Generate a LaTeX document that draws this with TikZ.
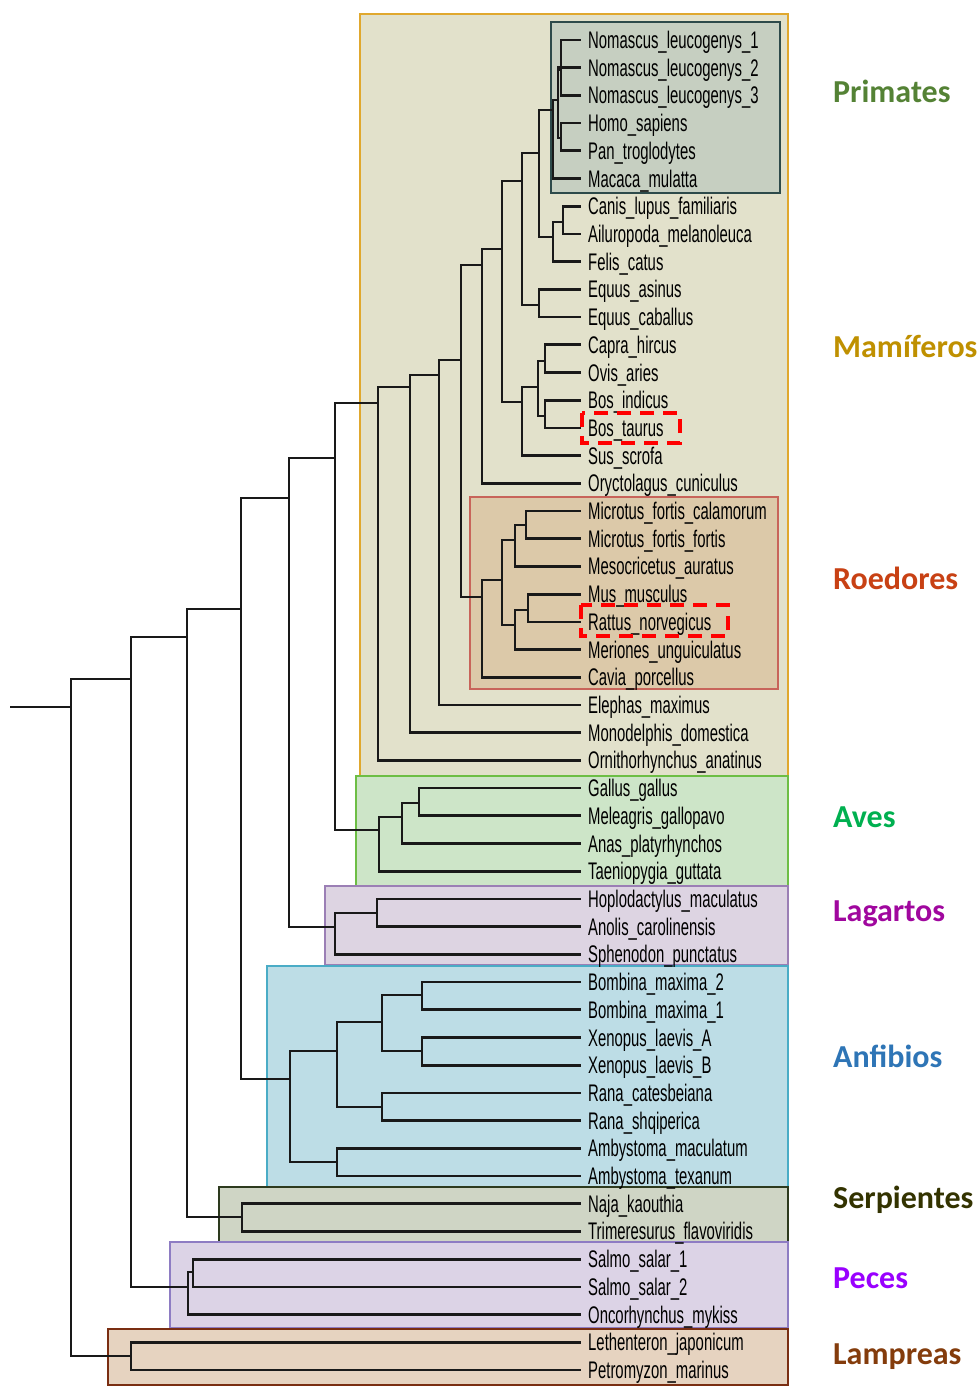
\documentclass[tikz,border=0pt]{standalone}
\usepackage{fontspec}
\setmainfont{Liberation Sans}
\newfontfamily\taxfont[FakeStretch=0.62]{Liberation Sans}
\newfontfamily\groupfont{Carlito}
\definecolor{mamfill}{RGB}{226,225,203}
\definecolor{mamline}{RGB}{224,168,46}
\definecolor{primfill}{RGB}{198,207,193}
\definecolor{primline}{RGB}{45,74,74}
\definecolor{roefill}{RGB}{220,201,169}
\definecolor{roeline}{RGB}{200,100,90}
\definecolor{avefill}{RGB}{205,229,200}
\definecolor{aveline}{RGB}{109,190,69}
\definecolor{lagfill}{RGB}{221,212,226}
\definecolor{lagline}{RGB}{155,127,181}
\definecolor{anffill}{RGB}{189,221,230}
\definecolor{anfline}{RGB}{74,172,198}
\definecolor{serfill}{RGB}{207,213,197}
\definecolor{serline}{RGB}{45,58,30}
\definecolor{pecfill}{RGB}{220,211,230}
\definecolor{pecline}{RGB}{142,124,195}
\definecolor{lamfill}{RGB}{230,211,192}
\definecolor{lamline}{RGB}{122,46,18}
\definecolor{primtxt}{RGB}{84,130,53}
\definecolor{mamtxt}{RGB}{191,144,0}
\definecolor{roetxt}{RGB}{200,65,20}
\definecolor{avetxt}{RGB}{0,176,80}
\definecolor{lagtxt}{RGB}{160,7,158}
\definecolor{anftxt}{RGB}{46,117,182}
\definecolor{sertxt}{RGB}{51,51,0}
\definecolor{pectxt}{RGB}{153,0,255}
\definecolor{lamtxt}{RGB}{132,60,12}

\begin{document}
\begin{tikzpicture}[x=1pt,y=-1pt,
    branch/.style={draw=black!90, line width=2.7pt, line cap=rect},
    clade/.style={line width=1.3pt},
    taxon/.style={anchor=west, inner sep=0pt, text height=17pt, text depth=0pt,
        font=\taxfont\fontsize{24}{24}\selectfont, text=black},
    group/.style={anchor=west, inner sep=0pt, text height=20pt, text depth=0pt,
        font=\groupfont\bfseries\fontsize{32}{32}\selectfont},
    hilite/.style={draw=red, line width=3.5pt, dash pattern=on 14pt off 9pt}]
    \useasboundingbox[fill=white] (0,0) rectangle (979,1387);

    % clade boxes
    \draw[clade, draw=mamline, fill=mamfill] (360,14) rectangle (788,776);
    \draw[clade, draw=primline, fill=primfill] (551,22) rectangle (780,193);
    \draw[clade, draw=roeline, fill=roefill] (470,497) rectangle (778,689);
    \draw[clade, draw=aveline, fill=avefill] (356,776) rectangle (788,886);
    \draw[clade, draw=lagline, fill=lagfill] (325,886) rectangle (788,965);
    \draw[clade, draw=anfline, fill=anffill] (267,966) rectangle (788,1187);
    \draw[clade, draw=serline, fill=serfill] (219,1187) rectangle (788,1242);
    \draw[clade, draw=pecline, fill=pecfill] (170,1242) rectangle (788,1328);
    \draw[clade, draw=lamline, fill=lamfill] (108,1329) rectangle (788,1385);

    % taxa
    \foreach \name [count=\n] in {Nomascus\_leucogenys\_1, Nomascus\_leucogenys\_2,
        Nomascus\_leucogenys\_3, Homo\_sapiens, Pan\_troglodytes, Macaca\_mulatta,
        Canis\_lupus\_familiaris, Ailuropoda\_melanoleuca, Felis\_catus,
        Equus\_asinus, Equus\_caballus, Capra\_hircus, Ovis\_aries, Bos\_indicus,
        Bos\_taurus, Sus\_scrofa, Oryctolagus\_cuniculus,
        Microtus\_fortis\_calamorum, Microtus\_fortis\_fortis,
        Mesocricetus\_auratus, Mus\_musculus, Rattus\_norvegicus,
        Meriones\_unguiculatus, Cavia\_porcellus, Elephas\_maximus,
        Monodelphis\_domestica, Ornithorhynchus\_anatinus, Gallus\_gallus,
        Meleagris\_gallopavo, Anas\_platyrhynchos, Taeniopygia\_guttata,
        Hoplodactylus\_maculatus, Anolis\_carolinensis, Sphenodon\_punctatus,
        Bombina\_maxima\_2, Bombina\_maxima\_1, Xenopus\_laevis\_A,
        Xenopus\_laevis\_B, Rana\_catesbeiana, Rana\_shqiperica,
        Ambystoma\_maculatum, Ambystoma\_texanum, Naja\_kaouthia,
        Trimeresurus\_flavoviridis, Salmo\_salar\_1, Salmo\_salar\_2,
        Oncorhynchus\_mykiss, Lethenteron\_japonicum, Petromyzon\_marinus} {
        \coordinate (t\n) at (580,{40+(\n-1)*27.708});
        \node[taxon] (l\n) at ([xshift=8pt]t\n) {\name};
    }

    % inner nodes
    \coordinate (nom) at (561,70);
    \coordinate (hom) at (558,100);
    \coordinate (hp) at (561,138);
    \coordinate (prim) at (553,110);
    \coordinate (can) at (563,222);
    \coordinate (carn) at (553,237);
    \coordinate (pc) at (539,153);
    \coordinate (equ) at (539,305);
    \coordinate (na) at (522,181);
    \coordinate (capov) at (545,361);
    \coordinate (bos) at (545,416);
    \coordinate (bov) at (538,387);
    \coordinate (cet) at (522,402);
    \coordinate (nb) at (502,249);
    \coordinate (nc) at (482,265);
    \coordinate (mic) at (526,525);
    \coordinate (micm) at (515,540);
    \coordinate (musr) at (528,610);
    \coordinate (musm) at (515,625);
    \coordinate (mur) at (502,580);
    \coordinate (rod) at (482,597);
    \coordinate (nd) at (461,360);
    \coordinate (ne) at (439,375);
    \coordinate (nf) at (410,387);
    \coordinate (ng) at (378,403);
    \coordinate (gm) at (419,803);
    \coordinate (gma) at (402,817);
    \coordinate (aves) at (379,830);
    \coordinate (amn) at (335,458);
    \coordinate (ha) at (377,913);
    \coordinate (lep) at (335,927);
    \coordinate (nh) at (289,498);
    \coordinate (bom) at (422,995);
    \coordinate (xen) at (422,1051);
    \coordinate (bx) at (382,1022);
    \coordinate (ran) at (382,1107);
    \coordinate (anu) at (337,1051);
    \coordinate (amb) at (337,1162);
    \coordinate (amph) at (290,1079);
    \coordinate (ni) at (241,609);
    \coordinate (snk) at (242,1217);
    \coordinate (nl) at (187,637);
    \coordinate (sal) at (193,1272);
    \coordinate (fish) at (188,1287);
    \coordinate (nm) at (131,679);
    \coordinate (lam) at (131,1356);
    \coordinate (root) at (71,707);
    \coordinate (base) at (11,707);

    % branches
    \draw[branch] (nom) |- (t1) (nom) |- (t3);
    \draw[branch] (hom) |- (nom) (hom) |- (t2) (hom) |- (hp);
    \draw[branch] (hp) |- (t4) (hp) |- (t5);
    \draw[branch] (prim) |- (hom) (prim) |- (t6);
    \draw[branch] (can) |- (t7) (can) |- (t8);
    \draw[branch] (carn) |- (can) (carn) |- (t9);
    \draw[branch] (pc) |- (prim) (pc) |- (carn);
    \draw[branch] (equ) |- (t10) (equ) |- (t11);
    \draw[branch] (na) |- (pc) (na) |- (equ);
    \draw[branch] (capov) |- (t12) (capov) |- (t13);
    \draw[branch] (bos) |- (t14) (bos) |- (t15);
    \draw[branch] (bov) |- (capov) (bov) |- (bos);
    \draw[branch] (cet) |- (bov) (cet) |- (t16);
    \draw[branch] (nb) |- (na) (nb) |- (cet);
    \draw[branch] (nc) |- (nb) (nc) |- (t17);
    \draw[branch] (mic) |- (t18) (mic) |- (t19);
    \draw[branch] (micm) |- (mic) (micm) |- (t20);
    \draw[branch] (musr) |- (t21) (musr) |- (t22);
    \draw[branch] (musm) |- (musr) (musm) |- (t23);
    \draw[branch] (mur) |- (micm) (mur) |- (musm);
    \draw[branch] (rod) |- (mur) (rod) |- (t24);
    \draw[branch] (nd) |- (nc) (nd) |- (rod);
    \draw[branch] (ne) |- (nd) (ne) |- (t25);
    \draw[branch] (nf) |- (ne) (nf) |- (t26);
    \draw[branch] (ng) |- (nf) (ng) |- (t27);
    \draw[branch] (gm) |- (t28) (gm) |- (t29);
    \draw[branch] (gma) |- (gm) (gma) |- (t30);
    \draw[branch] (aves) |- (gma) (aves) |- (t31);
    \draw[branch] (amn) |- (ng) (amn) |- (aves);
    \draw[branch] (ha) |- (t32) (ha) |- (t33);
    \draw[branch] (lep) |- (ha) (lep) |- (t34);
    \draw[branch] (nh) |- (amn) (nh) |- (lep);
    \draw[branch] (bom) |- (t35) (bom) |- (t36);
    \draw[branch] (xen) |- (t37) (xen) |- (t38);
    \draw[branch] (bx) |- (bom) (bx) |- (xen);
    \draw[branch] (ran) |- (t39) (ran) |- (t40);
    \draw[branch] (anu) |- (bx) (anu) |- (ran);
    \draw[branch] (amb) |- (t41) (amb) |- (t42);
    \draw[branch] (amph) |- (anu) (amph) |- (amb);
    \draw[branch] (ni) |- (nh) (ni) |- (amph);
    \draw[branch] (snk) |- (t43) (snk) |- (t44);
    \draw[branch] (nl) |- (ni) (nl) |- (snk);
    \draw[branch] (sal) |- (t45) (sal) |- (t46);
    \draw[branch] (fish) |- (sal) (fish) |- (t47);
    \draw[branch] (nm) |- (nl) (nm) |- (fish);
    \draw[branch] (lam) |- (t48) (lam) |- (t49);
    \draw[branch] (root) |- (nm) (root) |- (lam);
    \draw[branch] (base) -- (root);

    % highlighted taxa
    \draw[hilite] (582,413) rectangle (680,443);
    \draw[hilite] (581,605) rectangle (728,636);

    % group labels
    \node[group, text=primtxt] (gprim) at (833,92) {Primates};
    \node[group, text=mamtxt] (gmam) at (833,347) {Mamíferos};
    \node[group, text=roetxt] (groe) at (833,579) {Roedores};
    \node[group, text=avetxt] (gave) at (833,817) {Aves};
    \node[group, text=lagtxt] (glag) at (833,911) {Lagartos};
    \node[group, text=anftxt] (ganf) at (833,1057) {Anfibios};
    \node[group, text=sertxt] (gser) at (833,1198) {Serpientes};
    \node[group, text=pectxt] (gpec) at (833,1278) {Peces};
    \node[group, text=lamtxt] (glam) at (833,1354) {Lampreas};
\end{tikzpicture}
\end{document}
